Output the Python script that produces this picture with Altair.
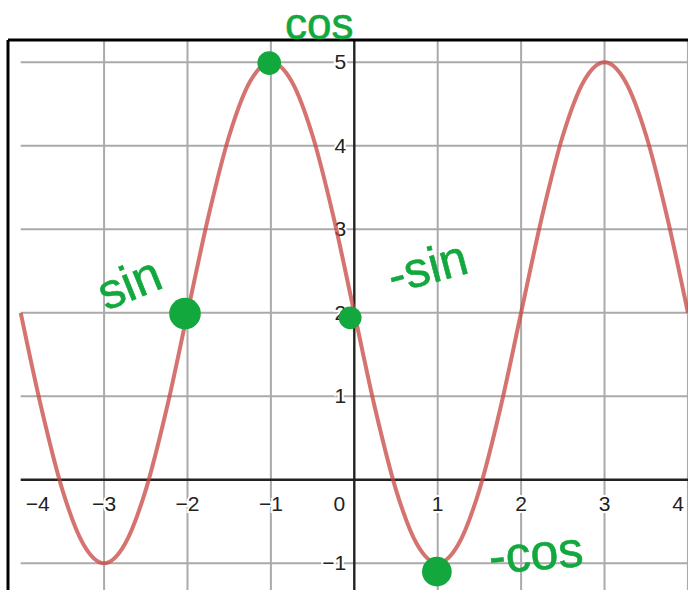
import altair as alt
import pandas as pd

# Curve samples (x, y) every quarter unit
curve_x = [-4, -3.75, -3.5, -3.25, -3, -2.75, -2.5, -2.25, -2, -1.75, -1.5, -1.25, -1,
           -0.75, -0.5, -0.25, 0, 0.25, 0.5, 0.75, 1, 1.25, 1.5, 1.75, 2, 2.25, 2.5,
           2.75, 3, 3.25, 3.5, 3.75, 4]
curve_y = [2, 0.85, -0.12, -0.77, -1, -0.77, -0.12, 0.85, 2, 3.15, 4.12, 4.77, 5,
           4.77, 4.12, 3.15, 2, 0.85, -0.12, -0.77, -1, -0.77, -0.12, 0.85, 2, 3.15, 4.12,
           4.77, 5, 4.77, 4.12, 3.15, 2]

# Grid / tick values
x_ticks = [-4, -3, -2, -1, 1, 2, 3, 4]
x_tick_labels = ["\u22124", "\u22123", "\u22122", "\u22121", "1", "2", "3", "4"]
y_ticks = [-1, 1, 2, 3, 4, 5]
y_tick_labels = ["\u22121", "1", "2", "3", "4", "5"]
vgrid_x = [-3, -2, -1, 1, 2, 3, 4]
hgrid_y = [-1, 1, 2, 3, 4, 5]

# Hand-written notes and their marked points
note_text = ["cos", "sin", "-sin", "-cos"]
note_x = [-0.42, -2.69, 0.88, 2.18]
note_y = [5.44, 2.33, 2.53, -0.90]
note_angle = [0, 338, 345, 355]
note_size = [44, 50, 50, 50]
dot_x = [-1.02, -2.03, -0.05, 0.99]
dot_y = [4.99, 1.99, 1.94, -1.10]
dot_size = [560, 1000, 520, 880]

# View window
X_MIN, X_MAX = -4.248, 4.001
Y_MIN, Y_MAX = -1.320, 5.746
FRAME_X, FRAME_Y = -4.152, 5.267
PLOT_X0 = -4.0

xs = alt.Scale(domain=[X_MIN, X_MAX], nice=False, zero=False)
ys = alt.Scale(domain=[Y_MIN, Y_MAX], nice=False, zero=False)

def X(f):
    return alt.X(f, type="quantitative", scale=xs, axis=None)

def Y(f):
    return alt.Y(f, type="quantitative", scale=ys, axis=None)

GRID = "#aaaaaa"
AXIS = "#222222"
GREEN = "#12a83e"
FONT = "Liberation Sans"

vgrid = pd.DataFrame({"x": vgrid_x, "y0": Y_MIN, "y1": FRAME_Y})
hgrid = pd.DataFrame({"y": hgrid_y, "x0": PLOT_X0, "x1": X_MAX})

vgrid_layer = alt.Chart(vgrid).mark_rule(color=GRID, strokeWidth=2).encode(
    x=X("x"), y=Y("y0"), y2="y1")
hgrid_layer = alt.Chart(hgrid).mark_rule(color=GRID, strokeWidth=2).encode(
    y=Y("y"), x=X("x0"), x2="x1")

xaxis = pd.DataFrame({"y": [0], "x0": [PLOT_X0], "x1": [X_MAX]})
yaxis = pd.DataFrame({"x": [0], "y0": [Y_MIN], "y1": [FRAME_Y]})
xaxis_layer = alt.Chart(xaxis).mark_rule(color=AXIS, strokeWidth=2.4).encode(
    y=Y("y"), x=X("x0"), x2="x1")
yaxis_layer = alt.Chart(yaxis).mark_rule(color=AXIS, strokeWidth=2.4).encode(
    x=X("x"), y=Y("y0"), y2="y1")

xlab = pd.DataFrame({"x": x_ticks, "label": x_tick_labels, "y": 0})
ylab = pd.DataFrame({"y": y_ticks, "label": y_tick_labels, "x": 0})
origin = pd.DataFrame({"x": [0], "y": [0], "label": ["0"]})

def label_layers(df, **kw):
    layers = []
    for halo in (True, False):
        opts = dict(font=FONT, fontSize=21, color=AXIS, baseline="middle")
        opts.update(kw)
        if halo:
            opts.update(stroke="white", strokeWidth=4, color="white")
        layers.append(alt.Chart(df).mark_text(**opts).encode(
            x=X("x"), y=Y("y"), text="label:N"))
    return layers

x_inner = xlab[(xlab.x > -4) & (xlab.x < 4)]
x_left = xlab[xlab.x == -4]
x_right = xlab[xlab.x == 4]

labels = []
labels += label_layers(x_inner, align="center", dy=25)
labels += label_layers(x_left, align="left", dx=5, dy=25)
labels += label_layers(x_right, align="right", dx=-4, dy=25)
labels += label_layers(ylab, align="right", dx=-8, dy=1)
labels += label_layers(origin, align="right", dx=-9, dy=25)

curve = pd.DataFrame({"x": curve_x, "y": curve_y})
curve_layer = alt.Chart(curve).mark_line(
    color="#c74440", opacity=0.75, strokeWidth=4, interpolate="monotone"
).encode(x=X("x"), y=Y("y"))

frame_top = pd.DataFrame({"y": [FRAME_Y], "x0": [FRAME_X], "x1": [X_MAX]})
frame_left = pd.DataFrame({"x": [FRAME_X], "y0": [Y_MIN], "y1": [FRAME_Y]})
frame_top_layer = alt.Chart(frame_top).mark_rule(color="black", strokeWidth=3).encode(
    y=Y("y"), x=X("x0"), x2="x1")
frame_left_layer = alt.Chart(frame_left).mark_rule(color="black", strokeWidth=3).encode(
    x=X("x"), y=Y("y0"), y2="y1")

dots = pd.DataFrame({"x": dot_x, "y": dot_y, "s": dot_size})
dot_layer = alt.Chart(dots).mark_point(
    filled=True, shape="circle", color=GREEN, opacity=1
).encode(x=X("x"), y=Y("y"), size=alt.Size("s:Q", scale=None, legend=None))

notes = pd.DataFrame({"x": note_x, "y": note_y, "label": note_text,
                      "a": note_angle, "fs": note_size})
note_layer = alt.Chart(notes).mark_text(
    font="Liberation Sans Narrow, Liberation Sans", color=GREEN,
    stroke=GREEN, strokeWidth=0.6, baseline="middle", align="center"
).encode(x=X("x"), y=Y("y"), text="label:N",
         angle=alt.Angle("a:Q", scale=None),
         size=alt.Size("fs:Q", scale=None, legend=None))

chart = alt.layer(
    vgrid_layer, hgrid_layer, xaxis_layer, yaxis_layer, *labels,
    curve_layer, frame_top_layer, frame_left_layer, dot_layer, note_layer
).properties(
    width=688, height=590, padding=0, autosize="none", background="white"
).configure_view(stroke=None)

chart.save("out.html", embed_options={"renderer": "svg", "actions": False})
